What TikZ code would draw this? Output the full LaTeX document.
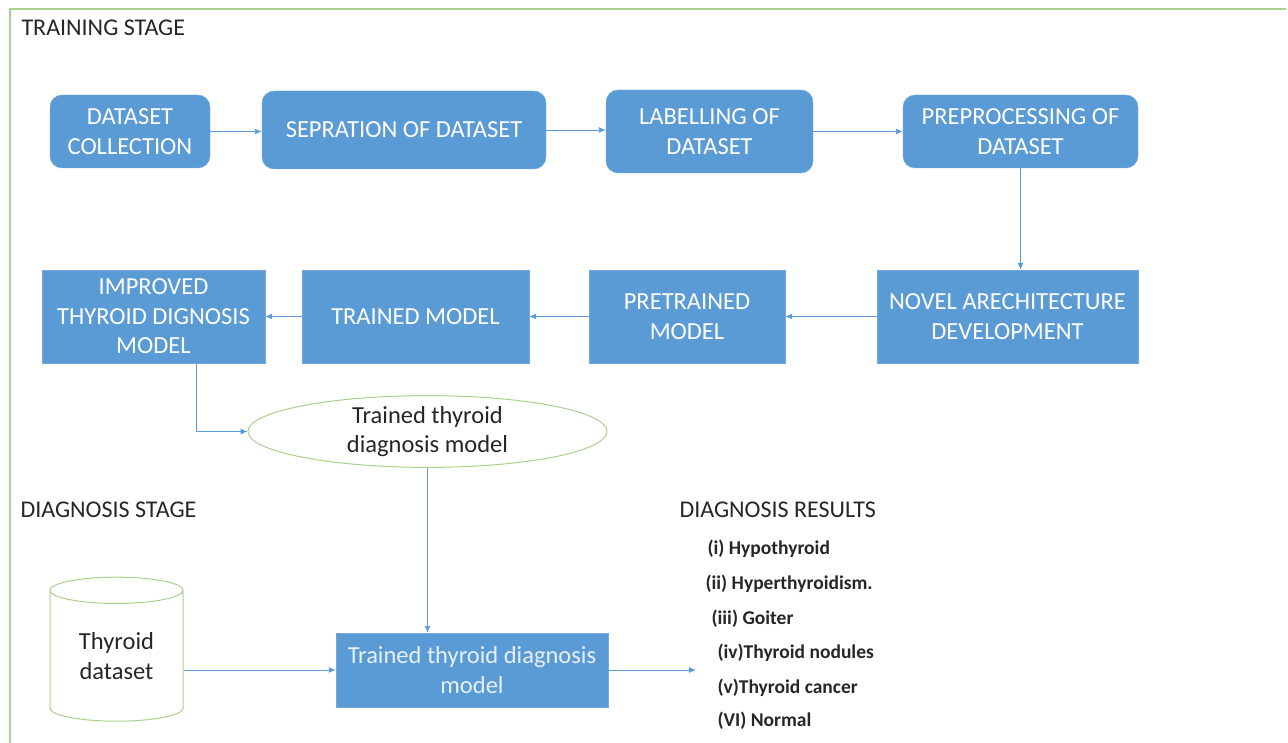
\documentclass[tikz,border=0pt]{standalone}
\usepackage{fontspec}
\setmainfont{Carlito}
\usetikzlibrary{positioning}
\usetikzlibrary{shapes.geometric}
\usetikzlibrary{arrows.meta}

\definecolor{boxblue}{RGB}{91,155,213}
\definecolor{lineblue}{RGB}{91,155,213}
\definecolor{framegreen}{RGB}{169,209,142}
\definecolor{textgray}{RGB}{38,38,38}

\tikzset{
	stepbox/.style={draw=boxblue!85!white,fill=boxblue,text=white,align=center,
		inner sep=0pt,font=\fontsize{24.5}{29.5}\selectfont},
	roundbox/.style={stepbox,rounded corners=12pt},
	flow/.style={draw=lineblue,line width=0.9pt,-{Latex[length=7pt,width=6pt]}},
	stagelabel/.style={anchor=west,text=textgray,font=\fontsize{24}{28}\selectfont},
	result/.style={anchor=west,text=textgray,font=\fontsize{19.5}{22}\selectfont\bfseries},
}

\begin{document}
\begin{tikzpicture}[x=1pt,y=-1pt]
			
			\useasboundingbox (0,0) rectangle (1288,743);
			\draw[framegreen,line width=1.2pt] (1286,9) -- (10,9) -- (10,743);
			
			\node[stagelabel] (train) at (18,28) {TRAINING STAGE};
			\node[stagelabel] (diag) at (17,510) {DIAGNOSIS STAGE};
			
			% first row
			\node[roundbox,minimum width=160,minimum height=73] (collect) at (130,131.5) {DATASET\\COLLECTION};
			\node[roundbox,minimum width=284,minimum height=78] (sep) at (404,130) {SEPRATION OF DATASET};
			\node[roundbox,minimum width=207,minimum height=83] (label) at (709.5,131.5) {LABELLING OF\\DATASET};
			\node[roundbox,minimum width=235,minimum height=73] (pre) at (1020.5,131.5) {PREPROCESSING OF\\DATASET};
			
			% second row
			\node[stepbox,minimum width=261,minimum height=93] (novel) at (1007.5,316.5) {NOVEL ARECHITECTURE\\DEVELOPMENT};
			\node[stepbox,minimum width=196,minimum height=93] (pretr) at (687,316.5) {PRETRAINED\\MODEL};
			\node[stepbox,minimum width=227,minimum height=93] (trmod) at (415.5,316.5) {TRAINED MODEL};
			\node[stepbox,minimum width=223,minimum height=93] (improved) at (153.5,316.5) {IMPROVED\\THYROID DIGNOSIS\\MODEL};
			
			\node[ellipse,draw=framegreen,line width=1pt,minimum width=359,minimum height=67,inner sep=0pt,
				align=center,text=textgray,font=\fontsize{24.5}{29.5}\selectfont] (ttdm) at (427.5,431.5) {Trained thyroid\\diagnosis model};
			
			% diagnosis stage
			\node[cylinder,shape border rotate=90,aspect=0.35,draw=framegreen,line width=1pt,
				minimum width=133,minimum height=144,align=center,text=textgray,inner sep=0pt,
				font=\fontsize{24.5}{29.5}\selectfont] (thyds) at (116.5,656) {Thyroid\\dataset};
			\node[stepbox,minimum width=272,minimum height=74,text=white!85!boxblue] (ttdbox) at (472,670) {Trained thyroid diagnosis\\model};
			\coordinate (out) at (696,670);
			
			\node[stagelabel] (results) at (676,510) {DIAGNOSIS RESULTS};
			\node[result] (r1) at (704,549) {(i) Hypothyroid};
			\node[result] (r2) at (702,584) {(ii) Hyperthyroidism.};
			\node[result] (r3) at (708,619) {(iii) Goiter};
			\node[result] (r4) at (714,653) {(iv)Thyroid nodules};
			\node[result] (r5) at (714,688) {(v)Thyroid cancer};
			\node[result] (r6) at (714,721) {(VI) Normal};
			
			\draw[flow] (collect.east) -- (collect.east -| sep.west);
			\draw[flow] (sep.east) -- (sep.east -| label.west);
			\draw[flow] (label.east) -- (label.east -| pre.west);
			\draw[flow] (pre.south) -- (pre.south |- novel.north);
			\draw[flow] (novel.west) -- (pretr.east);
			\draw[flow] (pretr.west) -- (trmod.east);
			\draw[flow] (trmod.west) -- (improved.east);
			\draw[flow] ([xshift=43pt]improved.south) |- (ttdm.west);
			\draw[flow] (ttdm.south) -- (ttdm.south |- ttdbox.north);
			\draw[flow] (thyds.east |- ttdbox.west) -- (ttdbox.west);
			\draw[flow] (ttdbox.east) -- (out);
			
		\end{tikzpicture}
\end{document}
